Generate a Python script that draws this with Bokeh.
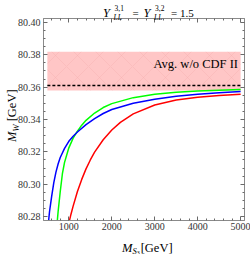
from bokeh.plotting import figure
from bokeh.layouts import column
from bokeh.models import (Range1d, LinearAxis, SingleIntervalTicker, PrintfTickFormatter,
                          CustomJSTickFormatter, Label, Div)
from bokeh.embed import file_html
from bokeh.resources import INLINE

# ---------------- data ----------------
mass_blue = [500, 550, 600, 650, 700, 750, 800, 900, 1000, 1100, 1200, 1400, 1600, 1800,
             2000, 2500, 3000, 3500, 4000, 4500, 5000]
mw_blue = [80.2700, 80.2830, 80.2925, 80.3010, 80.3075, 80.3125, 80.3165, 80.3222, 80.3265,
           80.3297, 80.3323, 80.3368, 80.3405, 80.3437, 80.3462, 80.3500, 80.3525, 80.3543,
           80.3556, 80.3566, 80.3573]

mass_green = [700, 750, 800, 850, 900, 1000, 1100, 1200, 1300, 1400, 1600, 1800, 2000,
              2500, 3000, 3500, 4000, 4500, 5000]
mw_green = [80.2680, 80.2830, 80.2955, 80.3065, 80.3135, 80.3225, 80.3285, 80.3328, 80.3365,
            80.3395, 80.3440, 80.3474, 80.3498, 80.3535, 80.3556, 80.3568, 80.3576, 80.3581,
            80.3585]

mass_red = [1000, 1050, 1100, 1200, 1300, 1400, 1500, 1600, 1800, 2000, 2200, 2500, 3000,
            3500, 4000, 4500, 5000]
mw_red = [80.2760, 80.2815, 80.2865, 80.2955, 80.3030, 80.3095, 80.3150, 80.3198, 80.3275,
          80.3335, 80.3382, 80.3435, 80.3490, 80.3520, 80.3538, 80.3549, 80.3556]

band_mass = [500, 5000]
band_low = 80.3579
band_high = 80.3818
avg_mw = 80.3610
band_label = "Avg. w/o CDF II"

x_ticks_interval = 1000
y_ticks_interval = 0.02

# ---------------- layout ----------------
W, H = 250, 254
BL, BR, BT, BB = 43, 6, 18, 34
X0, X1 = 410, 5090
Y0, Y1 = 80.2776, 80.4024
FW, FH = W - BL - BR, H - BT - BB

def dx(px):
    return X0 + (px - BL) / FW * (X1 - X0)

def dy(py):
    return Y1 - (py - BT) / FH * (Y1 - Y0)

p = figure(width=W, height=H, x_range=Range1d(X0, X1), y_range=Range1d(Y0, Y1),
           output_backend="svg", toolbar_location=None,
           min_border_left=BL, min_border_right=BR, min_border_top=BT, min_border_bottom=BB)
p.grid.visible = False
p.background_fill_color = "white"
p.border_fill_color = "white"
p.outline_line_color = "#8a8a8a"

FRAME = "#8a8a8a"
TICKC = "#6a6a6a"
FONT = "Liberation Serif"

def style_axis(ax, labels=True):
    ax.axis_line_color = FRAME
    ax.major_tick_line_color = TICKC
    ax.minor_tick_line_color = TICKC
    ax.major_tick_in = 4
    ax.major_tick_out = 0
    ax.minor_tick_in = 2
    ax.minor_tick_out = 0
    ax.major_label_text_font = FONT
    ax.major_label_text_font_size = "10px"
    ax.major_label_text_color = "#333333"
    if not labels:
        ax.formatter = CustomJSTickFormatter(code="return '';")
        ax.major_label_standoff = 0

p.xaxis.ticker = SingleIntervalTicker(interval=x_ticks_interval, num_minor_ticks=5)
p.xaxis.formatter = PrintfTickFormatter(format="%d")
p.xaxis.major_label_standoff = 2
p.yaxis.ticker = SingleIntervalTicker(interval=y_ticks_interval, num_minor_ticks=4)
p.yaxis.formatter = PrintfTickFormatter(format="%.2f")
p.yaxis.major_label_standoff = 3
style_axis(p.xaxis[0])
style_axis(p.yaxis[0])

top_ax = LinearAxis(ticker=SingleIntervalTicker(interval=x_ticks_interval, num_minor_ticks=5))
right_ax = LinearAxis(ticker=SingleIntervalTicker(interval=y_ticks_interval, num_minor_ticks=4))
style_axis(top_ax, labels=False)
style_axis(right_ax, labels=False)
p.add_layout(top_ax, "above")
p.add_layout(right_ax, "right")

# band
p.quad(left=[band_mass[0]], right=[band_mass[1]], bottom=[band_low], top=[band_high],
       fill_color="#ffc6c6", line_color=None, hatch_pattern="x", hatch_color="#eea0a0",
       hatch_alpha=0.4, hatch_scale=22, hatch_weight=0.6)
p.line(band_mass, [avg_mw, avg_mw], line_color="black", line_width=1.3, line_dash="3 2")

# curves
p.line(mass_red, mw_red, line_color="#ff0000", line_width=1.5)
p.line(mass_green, mw_green, line_color="#00ff00", line_width=1.5)
p.line(mass_blue, mw_blue, line_color="#0000ff", line_width=1.5)

# band label (inside the frame)
p.add_layout(Label(x=dx(237.5), y=dy(63.3), text=band_label, text_font=FONT,
                   text_font_size="12.5px", text_align="right", text_baseline="alphabetic",
                   text_color="black"))

# ---------------- texts outside the frame: HTML overlay ----------------
ASC = 0.8375  # baseline offset (em) of Liberation Serif for line-height 1

def piece(html, x, base, size, italic=False):
    top = base - ASC * size
    st = (f"position:absolute;left:{x}px;top:{top:.2f}px;font-size:{size}px;"
          f"line-height:{size}px;white-space:nowrap;")
    if italic:
        st += "font-style:italic;"
    return f'<span style="{st}">{html}</span>'

parts = []
# title: Y^{3,1}_{LL} = Y^{3,2}_{LL} = 1.5
for t, x, b, s, it in [("Y", 98, 12.5, 12.5, True), ("3,1", 109.5, 6.5, 7.5, False),
                       ("LL", 108.5, 15, 7.5, True), ("=", 127.5, 12.5, 11, False),
                       ("Y", 138.5, 12.5, 12.5, True), ("3,2", 150, 6.5, 7.5, False),
                       ("LL", 149, 15, 7.5, True), ("= 1.5", 166, 12.5, 11, False)]:
    parts.append(piece(t, x, b, s, it))

SUB = "position:relative;line-height:1;"
# x axis label: M_{S_3}[GeV]
xlab = (f'<i>M</i><span style="font-size:8.5px;{SUB}top:2px"><i>S</i>'
        f'<span style="font-size:6px;{SUB}top:1px">3</span></span>'
        '<span style="margin-left:1px">[GeV]</span>')
parts.append(piece(xlab, 117, 247, 12.5))

# y axis label: M_W [GeV], rotated, reading upward
ylab = f'<i>M</i><span style="font-size:8.5px;{SUB}top:2.5px"><i>W</i></span> [GeV]'
ysize = 12.5
yl_left = 11.5 - ASC * ysize
parts.append(f'<span style="position:absolute;left:{yl_left:.2f}px;top:137px;'
             f'font-size:{ysize}px;line-height:{ysize}px;white-space:nowrap;'
             f'transform:rotate(-90deg);transform-origin:0 0;">{ylab}</span>')

html = (f'<div style="position:relative;width:{W}px;height:{H}px;'
        f"font-family:'{FONT}',serif;color:black;\">" + "".join(parts) + "</div>")

overlay = Div(text=html, width=W, height=H,
              styles={"position": "absolute", "left": "0px", "top": "0px",
                      "z-index": "10", "pointer-events": "none"})

layout = column(p, overlay)
open("out.html", "w").write(file_html(layout, INLINE))
